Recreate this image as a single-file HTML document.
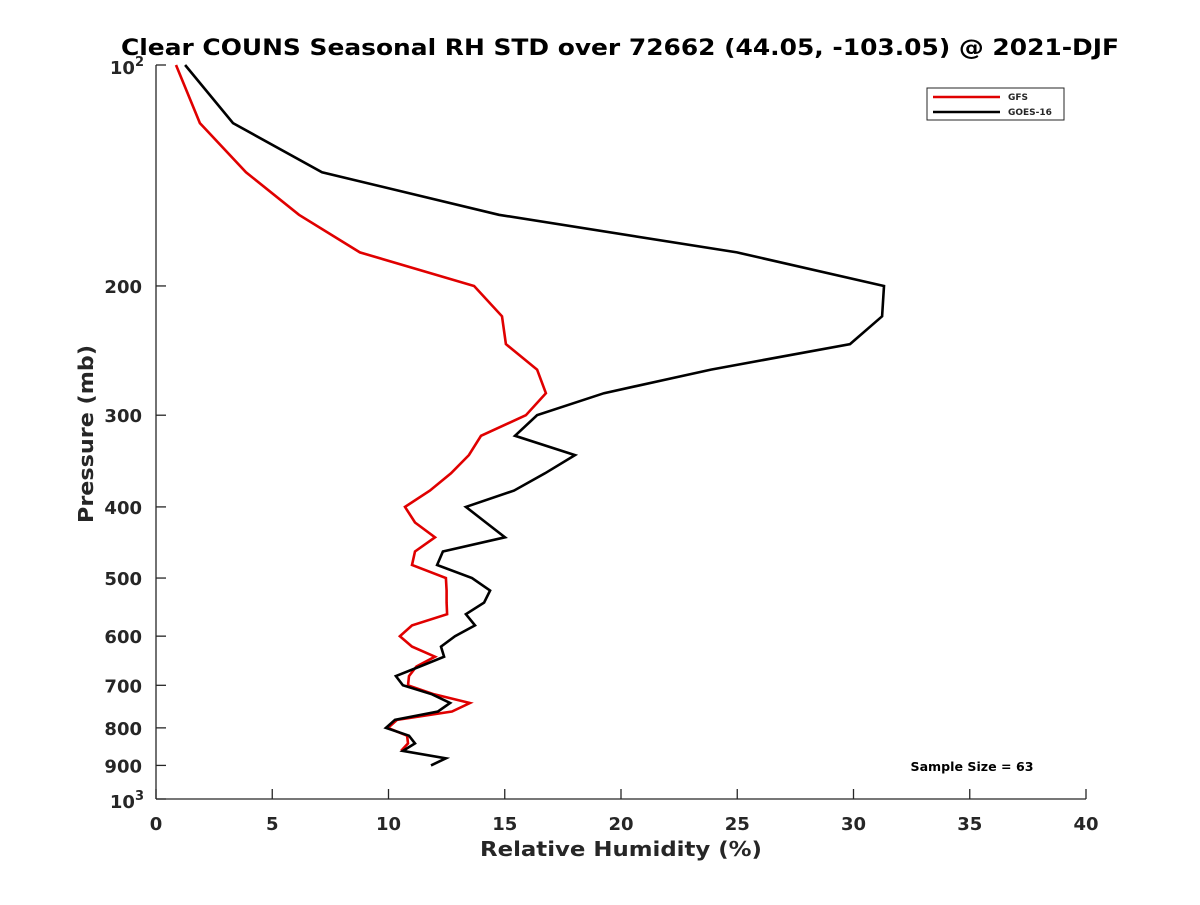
<!DOCTYPE html>
<html><head><meta charset="utf-8"><style>
body{margin:0;background:#fff;}
svg text{font-family:"DejaVu Sans","Liberation Sans",sans-serif;font-weight:bold;fill:#262626;}
</style></head><body>
<svg id="c" width="1200" height="900" viewBox="0 0 1200 900">
<rect width="1200" height="900" fill="#fff"/>
<text x="620" y="55" text-anchor="middle" font-size="22" textLength="998" lengthAdjust="spacingAndGlyphs" style="fill:#000">Clear COUNS Seasonal RH STD over 72662 (44.05, -103.05) @ 2021-DJF</text>
<g id="axes"></g>
<g id="series"></g>
<text x="621" y="856" text-anchor="middle" font-size="20" textLength="282" lengthAdjust="spacingAndGlyphs">Relative Humidity (%)</text>
<text transform="translate(93,434) rotate(-90)" text-anchor="middle" font-size="20" textLength="178" lengthAdjust="spacingAndGlyphs">Pressure (mb)</text>
<g>
<rect x="927" y="88" width="137" height="32" fill="#fff" stroke="#262626" stroke-width="1"/>
<line x1="933" y1="97" x2="1000" y2="97" stroke="#e00000" stroke-width="2.5"/>
<text x="1008" y="100" font-size="9">GFS</text>
<line x1="933" y1="112" x2="1000" y2="112" stroke="#000" stroke-width="2.5"/>
<text x="1008" y="115" font-size="9">GOES-16</text>
</g>
<text x="972" y="771" text-anchor="middle" font-size="12" textLength="123" lengthAdjust="spacingAndGlyphs" style="fill:#000">Sample Size = 63</text>
</svg>
<script>
const levels=[100,120,140,160,180,200,220,240,260,280,300,320,340,360,380,400,420,440,460,480,500,520,540,560,580,600,620,640,660,680,700,720,740,760,780,800,820,840,860,880,900];
const gfsValues=[0.86,1.89,3.87,6.15,8.77,13.68,14.88,15.05,16.39,16.77,15.91,13.98,13.46,12.69,11.78,10.71,11.14,12.0,11.14,11.01,12.47,12.5,12.5,12.52,11.01,10.49,11.01,12.0,11.2,10.88,10.84,11.96,13.5,12.73,10.37,9.98,10.8,10.84,10.54];
const goesValues=[1.25,3.31,7.14,14.75,24.99,31.31,31.23,29.85,23.87,19.27,16.39,15.44,18.02,16.73,15.4,13.33,14.19,15.01,12.34,12.09,13.59,14.37,14.11,13.33,13.72,12.86,12.26,12.39,11.35,10.32,10.62,11.87,12.65,12.13,10.28,9.89,10.88,11.14,10.62,12.47,11.83];
const xTicks=[0,5,10,15,20,25,30,35,40];
const yTicks=[200,300,400,500,600,700,800,900];
const X0=156,X1=1086,Y0=65,Y1=799;
const xs=v=>X0+(v/40)*(X1-X0);
const ys=p=>Y0+(Math.log10(p)-2)*(Y1-Y0);
const NS='http://www.w3.org/2000/svg';
const ax=document.getElementById('axes'),se=document.getElementById('series');
function mk(tag,at,parent){const e=document.createElementNS(NS,tag);for(const k in at)e.setAttribute(k,at[k]);parent.appendChild(e);return e;}
let l=mk('line',{x1:X0,y1:Y0,x2:X0,y2:Y1,stroke:'#262626','stroke-width':1.3},ax);


l=mk('line',{x1:X0,y1:Y1,x2:X1,y2:Y1,stroke:'#262626','stroke-width':1.3},ax);


xTicks.forEach(v=>{
 const x=xs(v);
 mk('line',{x1:x,y1:Y1,x2:x,y2:Y1-10,stroke:'#262626','stroke-width':1.3},ax);
 const t=mk('text',{x:x,y:Y1+31,'text-anchor':'middle','font-size':18},ax);
 t.textContent=v;
 
 
});
[100,1000].forEach(p=>{const y=ys(p);mk('line',{x1:X0,y1:y,x2:X0+10,y2:y,stroke:'#262626','stroke-width':1.3},ax);});
yTicks.forEach(p=>{
 const y=ys(p);
 mk('line',{x1:X0,y1:y,x2:X0+10,y2:y,stroke:'#262626','stroke-width':1.3},ax);
 const t=mk('text',{x:X0-14,y:y+7,'text-anchor':'end','font-size':18},ax);
 t.textContent=p;
 
 
});
[[100,'2'],[1000,'3']].forEach(([p,e])=>{
 const t=mk('text',{x:X0-12,y:ys(p)+9,'text-anchor':'end','font-size':18},ax);
 t.innerHTML='10<tspan dy="-8" font-size="13">'+e+'</tspan>';
 
 
});
function line(vals,color,name){
 const pts=vals.map((v,i)=>xs(v).toFixed(1)+','+ys(levels[i]).toFixed(1)).join(' ');
 const pl=mk('polyline',{points:pts,fill:'none',stroke:color,'stroke-width':2.6,'stroke-linejoin':'miter'},se);
 
 
}
line(gfsValues,'#e00000','gfs-line');
line(goesValues,'#000','goes16-line');
</script>
</body></html>
